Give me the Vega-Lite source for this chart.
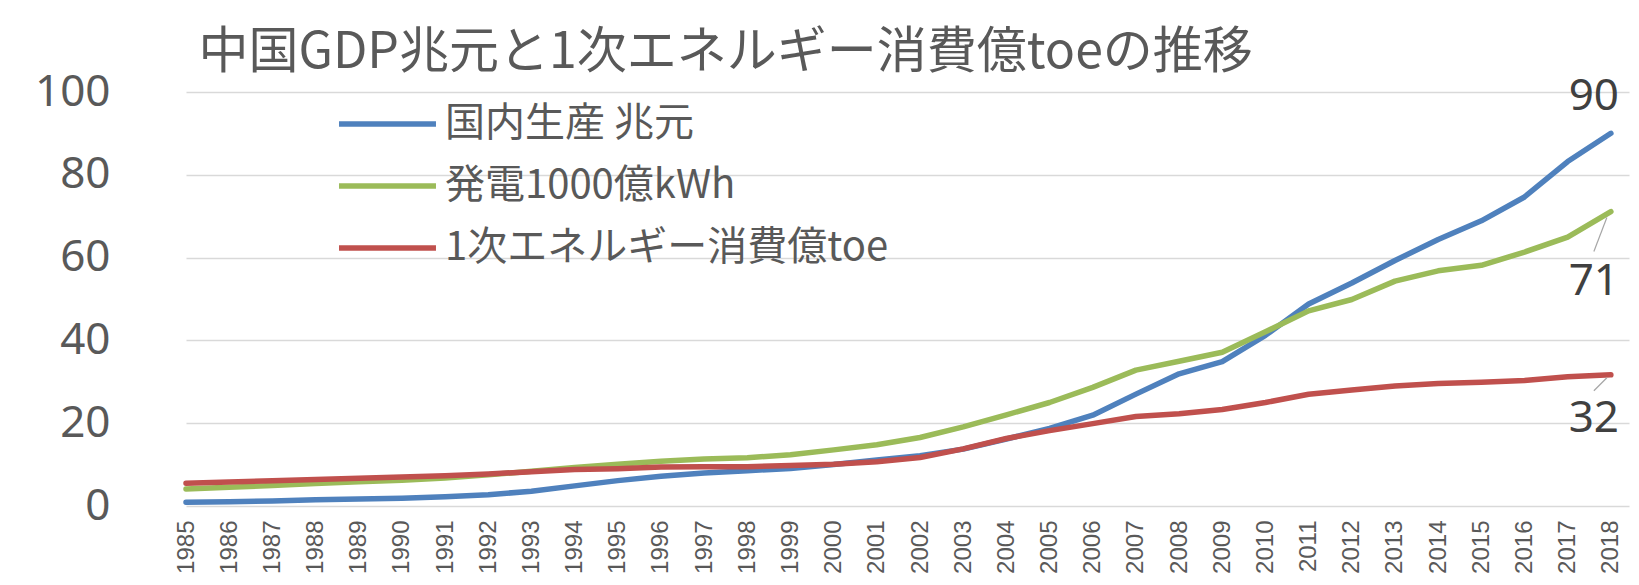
{
  "$schema": "https://vega.github.io/schema/vega-lite/v6.json",
  "autosize": {"type": "none"},
  "padding": {"left": 186, "top": 92, "right": 10, "bottom": 79},
  "width": 1443,
  "height": 414,
  "background": "white",
  "config": {"view": {"stroke": null}, "font": "Noto Sans CJK JP"},
  "title": {"text": "中国GDP兆元と1次エネルギー消費億toeの推移", "anchor": "start", "dx": 164, "offset": -8, "fontSize": 50, "font": "Noto Sans CJK JP", "fontWeight": "normal", "color": "#595959"},
  "data": {"values": [
    {"year": 1985, "国内生産 兆元": 0.90, "発電1000億kWh": 4.11, "1次エネルギー消費億toe": 5.5},
    {"year": 1986, "国内生産 兆元": 1.03, "発電1000億kWh": 4.50, "1次エネルギー消費億toe": 5.8},
    {"year": 1987, "国内生産 兆元": 1.21, "発電1000億kWh": 4.97, "1次エネルギー消費億toe": 6.1},
    {"year": 1988, "国内生産 兆元": 1.52, "発電1000億kWh": 5.45, "1次エネルギー消費億toe": 6.4},
    {"year": 1989, "国内生産 兆元": 1.71, "発電1000億kWh": 5.85, "1次エネルギー消費億toe": 6.7},
    {"year": 1990, "国内生産 兆元": 1.89, "発電1000億kWh": 6.21, "1次エネルギー消費億toe": 7.0},
    {"year": 1991, "国内生産 兆元": 2.22, "発電1000億kWh": 6.78, "1次エネルギー消費億toe": 7.3},
    {"year": 1992, "国内生産 兆元": 2.72, "発電1000億kWh": 7.54, "1次エネルギー消費億toe": 7.7},
    {"year": 1993, "国内生産 兆元": 3.57, "発電1000億kWh": 8.40, "1次エネルギー消費億toe": 8.3},
    {"year": 1994, "国内生産 兆元": 4.86, "発電1000億kWh": 9.28, "1次エネルギー消費億toe": 8.8},
    {"year": 1995, "国内生産 兆元": 6.13, "発電1000億kWh": 10.08, "1次エネルギー消費億toe": 9.0},
    {"year": 1996, "国内生産 兆元": 7.18, "発電1000億kWh": 10.81, "1次エネルギー消費億toe": 9.4},
    {"year": 1997, "国内生産 兆元": 7.97, "発電1000億kWh": 11.36, "1次エネルギー消費億toe": 9.5},
    {"year": 1998, "国内生産 兆元": 8.52, "発電1000億kWh": 11.67, "1次エネルギー消費億toe": 9.5},
    {"year": 1999, "国内生産 兆元": 9.06, "発電1000億kWh": 12.39, "1次エネルギー消費億toe": 9.8},
    {"year": 2000, "国内生産 兆元": 10.03, "発電1000億kWh": 13.56, "1次エネルギー消費億toe": 10.1},
    {"year": 2001, "国内生産 兆元": 11.09, "発電1000億kWh": 14.81, "1次エネルギー消費億toe": 10.7},
    {"year": 2002, "国内生産 兆元": 12.17, "発電1000億kWh": 16.54, "1次エネルギー消費億toe": 11.7},
    {"year": 2003, "国内生産 兆元": 13.74, "発電1000億kWh": 19.11, "1次エネルギー消費億toe": 13.8},
    {"year": 2004, "国内生産 兆元": 16.18, "発電1000億kWh": 22.03, "1次エネルギー消費億toe": 16.3},
    {"year": 2005, "国内生産 兆元": 18.73, "発電1000億kWh": 25.00, "1次エネルギー消費億toe": 18.2},
    {"year": 2006, "国内生産 兆元": 21.94, "発電1000億kWh": 28.66, "1次エネルギー消費億toe": 19.9},
    {"year": 2007, "国内生産 兆元": 27.02, "発電1000億kWh": 32.82, "1次エネルギー消費億toe": 21.6},
    {"year": 2008, "国内生産 兆元": 31.92, "発電1000億kWh": 34.96, "1次エネルギー消費億toe": 22.3},
    {"year": 2009, "国内生産 兆元": 34.85, "発電1000億kWh": 37.15, "1次エネルギー消費億toe": 23.3},
    {"year": 2010, "国内生産 兆元": 41.21, "発電1000億kWh": 42.07, "1次エネルギー消費億toe": 25.0},
    {"year": 2011, "国内生産 兆元": 48.79, "発電1000億kWh": 47.13, "1次エネルギー消費億toe": 27.0},
    {"year": 2012, "国内生産 兆元": 53.86, "発電1000億kWh": 49.88, "1次エネルギー消費億toe": 28.0},
    {"year": 2013, "国内生産 兆元": 59.30, "発電1000億kWh": 54.32, "1次エネルギー消費億toe": 29.0},
    {"year": 2014, "国内生産 兆元": 64.36, "発電1000億kWh": 56.80, "1次エネルギー消費億toe": 29.6},
    {"year": 2015, "国内生産 兆元": 68.89, "発電1000億kWh": 58.15, "1次エネルギー消費億toe": 29.9},
    {"year": 2016, "国内生産 兆元": 74.64, "発電1000億kWh": 61.33, "1次エネルギー消費億toe": 30.3},
    {"year": 2017, "国内生産 兆元": 83.20, "発電1000億kWh": 64.95, "1次エネルギー消費億toe": 31.2},
    {"year": 2018, "国内生産 兆元": 90.03, "発電1000億kWh": 71.12, "1次エネルギー消費億toe": 31.7}
  ]},
  "transform": [
    {"fold": ["国内生産 兆元", "発電1000億kWh", "1次エネルギー消費億toe"], "as": ["series", "value"]}
  ],
  "encoding": {
    "x": {"field": "year", "type": "quantitative",
      "scale": {"domain": [1985, 2018.42], "nice": false, "zero": false},
      "axis": {"title": null, "values": [1985,1986,1987,1988,1989,1990,1991,1992,1993,1994,1995,1996,1997,1998,1999,2000,2001,2002,2003,2004,2005,2006,2007,2008,2009,2010,2011,2012,2013,2014,2015,2016,2017,2018],
        "format": "d", "labelAngle": 270, "labelFontSize": 24, "labelFont": "Liberation Sans", "labelColor": "#595959",
        "labelPadding": 14, "ticks": false, "domain": false, "grid": false, "labelOverlap": false, "labelFlush": false}},
    "y": {"field": "value", "type": "quantitative",
      "scale": {"domain": [0, 100], "nice": false},
      "axis": {"title": null, "values": [0, 20, 40, 60, 80, 100], "labelFontSize": 44, "labelFont": "Noto Sans", "labelColor": "#595959",
        "labelPadding": 76, "ticks": false, "domain": false, "grid": true, "gridColor": "#d9d9d9", "gridWidth": 1.5}}
  },
  "layer": [
    {
      "mark": {"type": "line", "strokeWidth": 5.5, "strokeCap": "round", "strokeJoin": "round"},
      "encoding": {
        "color": {"field": "series", "type": "nominal",
          "scale": {"domain": ["国内生産 兆元", "発電1000億kWh", "1次エネルギー消費億toe"], "range": ["#4F81BD", "#9BBB59", "#C0504D"]},
          "legend": {"orient": "none", "legendX": 150, "legendY": 1, "padding": 0, "title": null, "symbolType": "stroke", "symbolSize": 9400, "symbolStrokeWidth": 5.5,
            "labelFontSize": 40, "labelColor": "#595959", "labelFont": "Noto Sans CJK JP", "labelLimit": 1000, "clipHeight": 62, "rowPadding": 0, "labelOffset": 6, "direction": "vertical"}}
      }
    },
    {
      "transform": [{"filter": "datum.year == 2018 && datum.series == '国内生産 兆元'"}],
      "mark": {"type": "text", "dx": -17, "dy": -36, "fontSize": 44, "font": "Noto Sans", "color": "#404040"},
      "encoding": {"text": {"field": "value", "type": "quantitative", "format": ".0f"}}
    },
    {
      "transform": [{"filter": "datum.year == 2018 && datum.series == '発電1000億kWh'"}],
      "mark": {"type": "text", "dx": -17, "dy": 70, "fontSize": 44, "font": "Noto Sans", "color": "#404040"},
      "encoding": {"text": {"field": "value", "type": "quantitative", "format": ".0f"}}
    },
    {
      "transform": [{"filter": "datum.year == 2018 && datum.series == '1次エネルギー消費億toe'"}],
      "mark": {"type": "text", "dx": -17, "dy": 44, "fontSize": 44, "font": "Noto Sans", "color": "#404040"},
      "encoding": {"text": {"field": "value", "type": "quantitative", "format": ".0f"}}
    },
    {
      "transform": [{"filter": "datum.year == 2018 && datum.series == '発電1000億kWh'"}],
      "mark": {"type": "rule", "color": "#a6a6a6", "strokeWidth": 1.2, "xOffset": -4, "yOffset": 6, "x2Offset": -17, "y2Offset": 40},
      "encoding": {"x2": {"field": "year"}, "y2": {"field": "value"}}
    },
    {
      "transform": [{"filter": "datum.year == 2018 && datum.series == '1次エネルギー消費億toe'"}],
      "mark": {"type": "rule", "color": "#a6a6a6", "strokeWidth": 1.2, "xOffset": -4, "yOffset": 3, "x2Offset": -17, "y2Offset": 16},
      "encoding": {"x2": {"field": "year"}, "y2": {"field": "value"}}
    }
  ]
}
